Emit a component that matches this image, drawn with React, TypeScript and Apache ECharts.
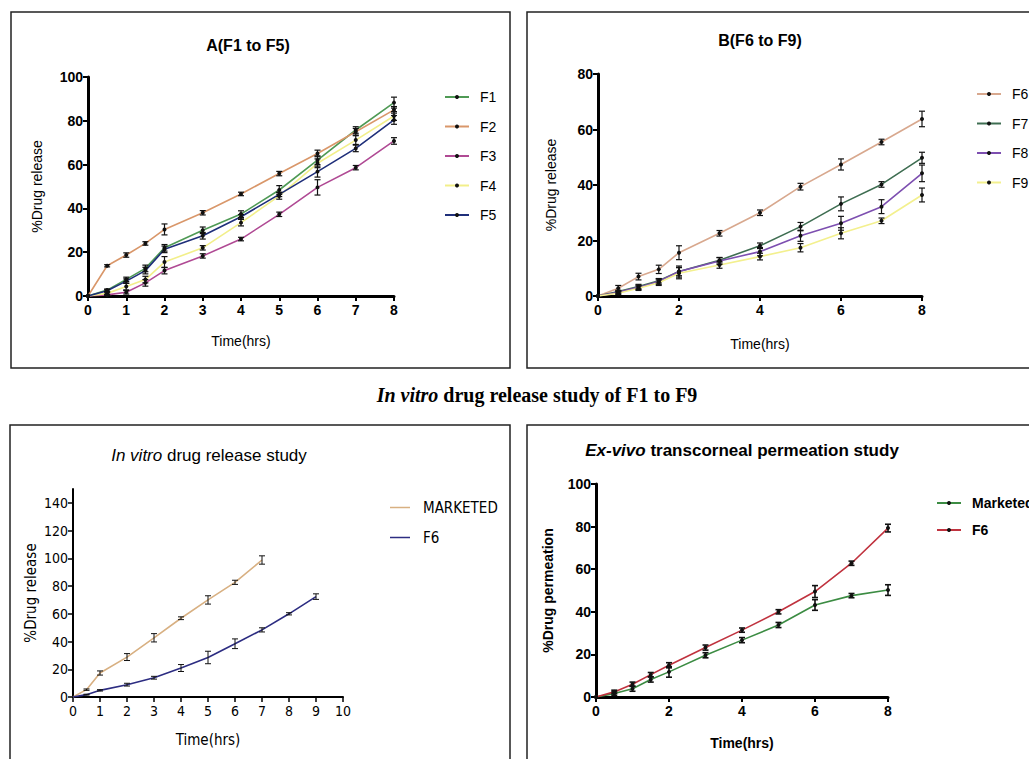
import React, { useEffect, useRef } from "react";
import * as echarts from "echarts";

// ---------- DATA ----------
const TIME_AB = [0, 0.5, 1, 1.5, 2, 3, 4, 5, 6, 7, 8];

const F1 = [0, 2.7, 7.6, 12.6, 22, 30, 37.4, 48.4, 62, 75.8, 88.3];
const F2 = [0, 13.8, 18.7, 24, 30.4, 38, 46.6, 55.9, 65.1, 75, 85];
const F3 = [0, 0.5, 1.7, 6, 11.6, 18.3, 26, 37.3, 49.6, 58.6, 70.8];
const F4 = [0, 1.2, 4.3, 7.5, 15.5, 22, 33.5, 45.7, 60.6, 71.2, 82.2];
const F5 = [0, 2.4, 6.8, 11.6, 21.3, 27.5, 36.2, 46.4, 56.8, 67.4, 80.4];
const F1_ERR = [0, 0.5, 1, 1.5, 1.5, 1.5, 1.5, 2, 2, 1.5, 2.5];
const F2_ERR = [0, 0.5, 1, 0.8, 2.5, 1, 0.8, 1, 1.5, 1.5, 1.5];
const F3_ERR = [0, 0.3, 0.8, 1.5, 1.5, 1, 0.8, 1, 3.5, 1, 1.5];
const F4_ERR = [0, 0.5, 1.5, 1.5, 2.5, 1, 1.5, 1.5, 2, 2, 2];
const F5_ERR = [0, 0.5, 1, 1.5, 1.5, 1.5, 1, 1, 2.5, 1.5, 2];

const F6 = [0, 2.8, 7, 9.6, 15.6, 22.6, 30, 39.4, 47.4, 55.5, 63.8];
const F7 = [0, 1.6, 3.4, 5.5, 8.8, 12.9, 18.1, 25, 33.2, 40.2, 49.8];
const F8 = [0, 1.3, 3.1, 5.2, 8.8, 12.6, 16, 21.7, 26.2, 32.2, 44.2];
const F9 = [0, 1, 2.8, 4.8, 8.2, 11.2, 14.2, 17.4, 22.6, 27.1, 36.4];
const F6_ERR = [0, 1, 1.2, 1.5, 2.5, 1, 1, 1.2, 2, 1, 2.8];
const F7_ERR = [0, 0.5, 0.8, 0.8, 1.5, 1, 1, 1.5, 2.5, 1, 2];
const F8_ERR = [0, 0.5, 0.8, 1, 2, 1.2, 1.5, 2, 2.5, 2.5, 3];
const F9_ERR = [0, 0.5, 0.8, 1, 2, 1.2, 1.2, 1.5, 2, 1, 2.5];

const TIME_C_MKT = [0, 0.5, 1, 2, 3, 4, 5, 6, 7];
const C_MARKETED = [0, 5.3, 17.3, 28.8, 42.7, 56.8, 70, 82.7, 98.8];
const C_MARKETED_ERR = [0, 0.5, 1.5, 2.5, 3, 1, 3, 1.5, 3];
const TIME_C_F6 = [0, 0.5, 1, 2, 3, 4, 5, 6, 7, 8, 9];
const C_F6 = [0, 1.7, 4.8, 8.9, 13.9, 20.9, 28.5, 38.4, 48.4, 60, 72.4];
const C_F6_ERR = [0, 0.3, 0.5, 1, 1, 2.5, 4.5, 3.5, 1.5, 0.8, 2];

const TIME_D = [0, 0.5, 1, 1.5, 2, 3, 4, 5, 6, 7, 8];
const D_MARKETED = [0, 1.6, 3.9, 8.2, 11.8, 19.6, 26.7, 33.8, 43.2, 47.6, 50.2];
const D_MARKETED_ERR = [0, 0.8, 1.2, 1.2, 2.5, 1.2, 1.2, 1.2, 2.5, 1, 2.5];
const D_F6 = [0, 2.4, 6, 10.5, 14.9, 23.2, 31.4, 40, 49.5, 62.8, 79.3];
const D_F6_ERR = [0, 0.8, 1, 1, 1.2, 1.2, 1, 1, 2.8, 1, 1.8];

const SANS = "'Liberation Sans', Arial, sans-serif";
const NARROW = "'Liberation Sans Narrow', 'DejaVu Sans Condensed', 'Liberation Sans', sans-serif";
const SERIF = "'Liberation Serif', 'Times New Roman', serif";

function pairs(xs: number[], ys: number[]) {
  return xs.map((x, i) => [x, ys[i]]);
}

function errData(xs: number[], ys: number[], es: number[]) {
  return xs.map((x, i) => [x, ys[i] - es[i], ys[i] + es[i]]).filter((_, i) => es[i] > 0);
}

function errSeries(name: string, gi: number, xs: number[], ys: number[], es: number[], lw = 1.2) {
  return {
    type: "custom",
    name,
    xAxisIndex: gi,
    yAxisIndex: gi,
    z: 5,
    silent: true,
    encode: { x: 0, y: [1, 2] },
    data: errData(xs, ys, es),
    renderItem: (params: any, api: any) => {
      const x = api.value(0);
      const lo = api.coord([x, api.value(1)]);
      const hi = api.coord([x, api.value(2)]);
      const w = 3;
      const st = { stroke: "#111", lineWidth: lw };
      return {
        type: "group",
        children: [
          { type: "line", shape: { x1: lo[0], y1: lo[1], x2: hi[0], y2: hi[1] }, style: st },
          { type: "line", shape: { x1: lo[0] - w, y1: lo[1], x2: lo[0] + w, y2: lo[1] }, style: st },
          { type: "line", shape: { x1: hi[0] - w, y1: hi[1], x2: hi[0] + w, y2: hi[1] }, style: st },
        ],
      };
    },
  };
}

function lineSeries(name: string, gi: number, xs: number[], ys: number[], color: string, showSym = true) {
  return {
    type: "line",
    name,
    xAxisIndex: gi,
    yAxisIndex: gi,
    z: 3,
    data: pairs(xs, ys),
    symbol: showSym ? "circle" : "none",
    symbolSize: 4,
    itemStyle: { color: showSym ? "#111" : color },
    lineStyle: { color, width: 1.6 },
  };
}

function axisPair(
  gi: number,
  xMax: number,
  xInt: number,
  yMax: number,
  yInt: number,
  opts: { bold: boolean; font: string; lw: number; xGap: number; yGap: number; yName: string; nameBold: boolean; fs: number; nfs: number; yLabels?: number[] }
) {
  const label = { color: "#000", fontWeight: opts.bold ? "bold" : "normal", fontSize: opts.fs, fontFamily: opts.font };
  const nameStyle = { color: "#000", fontWeight: opts.nameBold ? "bold" : "normal", fontSize: opts.nfs, fontFamily: opts.font };
  const line = { show: true, onZero: false, lineStyle: { color: "#000", width: opts.lw } };
  const tick = { show: true, length: 5, lineStyle: { color: "#000", width: Math.max(1.5, opts.lw - 1) } };
  const x: any = {
    gridIndex: gi,
    type: "value",
    min: 0,
    max: xMax,
    interval: xInt,
    axisLine: line,
    axisTick: tick,
    axisLabel: { ...label, margin: 7 },
    splitLine: { show: false },
    name: "Time(hrs)",
    nameLocation: "middle",
    nameGap: opts.xGap,
    nameTextStyle: nameStyle,
  };
  const y: any = {
    gridIndex: gi,
    type: "value",
    min: 0,
    max: yMax,
    interval: yInt,
    axisLine: line,
    axisTick: { ...tick },
    axisLabel: { ...label, margin: 5 },
    splitLine: { show: false },
    name: opts.yName,
    nameLocation: "middle",
    nameGap: opts.yGap,
    nameTextStyle: nameStyle,
  };
  if (opts.yLabels) {
    y.axisLabel.customValues = opts.yLabels;
    y.axisTick.customValues = opts.yLabels;
  }
  return { x, y };
}

function legend(left: number, top: number, gap: number, names: string[], font: string, bold: boolean, line: boolean) {
  const lg: any = {
    orient: "vertical",
    left,
    top,
    itemGap: gap,
    itemWidth: line ? 24 : 20,
    itemHeight: line ? 5 : 1.5,
    data: names,
    selectedMode: false,
    textStyle: {
      color: "#000",
      fontSize: line ? 14 : 15,
      lineHeight: 14,
      fontFamily: font,
      fontWeight: bold ? "bold" : "normal",
      padding: [0, 0, 0, line ? 6 : 8],
    },
  };
  if (!line) lg.icon = "rect";
  return lg;
}

function box(x: number, y: number, w: number, h: number) {
  return { type: "rect", shape: { x, y, width: w, height: h }, style: { fill: "none", stroke: "#222", lineWidth: 1.5 }, silent: true };
}

function label(x: number, y: number, text: string, rich: any) {
  return {
    type: "text",
    x,
    y,
    silent: true,
    style: { text, rich, align: "center", verticalAlign: "middle", fill: "#000" },
  };
}

export default function App() {
  const ref = useRef<HTMLDivElement>(null);
  useEffect(() => {
    if (!ref.current) return;
    const chart = echarts.init(ref.current, undefined, { renderer: "svg" });

    const aA = axisPair(0, 8, 1, 100, 20, { bold: true, font: SANS, lw: 3, xGap: 38, yGap: 44, yName: "%Drug release", nameBold: false, fs: 14, nfs: 14 });
    const aB = axisPair(1, 8, 2, 80, 20, { bold: true, font: SANS, lw: 3, xGap: 41, yGap: 40, yName: "%Drug release", nameBold: false, fs: 14, nfs: 14 });
    const aC = axisPair(2, 10, 1, 150, 10, {
      bold: false, font: NARROW, lw: 2, xGap: 35, yGap: 35, yName: "%Drug release", nameBold: false, fs: 14, nfs: 15,
      yLabels: [0, 20, 40, 60, 80, 100, 120, 140],
    });
    const aD = axisPair(3, 8, 2, 100, 20, { bold: true, font: SANS, lw: 3, xGap: 39, yGap: 41, yName: "%Drug permeation", nameBold: true, fs: 14, nfs: 14 });

    const option: any = {
      animation: false,
      backgroundColor: "#fff",
      grid: [
        { left: 88, top: 77, width: 306, height: 219 },
        { left: 598, top: 74, width: 324, height: 222 },
        { left: 73, top: 489, width: 270, height: 208 },
        { left: 596, top: 484, width: 292, height: 213 },
      ],
      xAxis: [aA.x, aB.x, aC.x, aD.x],
      yAxis: [aA.y, aB.y, aC.y, aD.y],
      legend: [
        legend(439, 85, 15.5, ["F1", "F2", "F3", "F4", "F5"], SANS, false, true),
        legend(971, 82, 15.5, ["F6", "F7", "F8", "F9"], SANS, false, true),
        legend(385, 495, 15, ["MARKETED", "F6 "], NARROW, false, false),
        legend(931, 491, 13, ["Marketed", "F6  "], SANS, true, true),
      ],
      series: [
        lineSeries("F1", 0, TIME_AB, F1, "#4f9a55"),
        lineSeries("F2", 0, TIME_AB, F2, "#d9976a"),
        lineSeries("F3", 0, TIME_AB, F3, "#b04a94"),
        lineSeries("F4", 0, TIME_AB, F4, "#f2ef8a"),
        lineSeries("F5", 0, TIME_AB, F5, "#1f2f7a"),
        errSeries("eF1", 0, TIME_AB, F1, F1_ERR),
        errSeries("eF2", 0, TIME_AB, F2, F2_ERR),
        errSeries("eF3", 0, TIME_AB, F3, F3_ERR),
        errSeries("eF4", 0, TIME_AB, F4, F4_ERR),
        errSeries("eF5", 0, TIME_AB, F5, F5_ERR),

        lineSeries("F6", 1, TIME_AB, F6, "#d8a88e"),
        lineSeries("F7", 1, TIME_AB, F7, "#3f6e52"),
        lineSeries("F8", 1, TIME_AB, F8, "#7d4fb0"),
        lineSeries("F9", 1, TIME_AB, F9, "#f3f08e"),
        errSeries("eF6", 1, TIME_AB, F6, F6_ERR),
        errSeries("eF7", 1, TIME_AB, F7, F7_ERR),
        errSeries("eF8", 1, TIME_AB, F8, F8_ERR),
        errSeries("eF9", 1, TIME_AB, F9, F9_ERR),

        lineSeries("MARKETED", 2, TIME_C_MKT, C_MARKETED, "#d8b082", false),
        lineSeries("F6 ", 2, TIME_C_F6, C_F6, "#2d2d82", false),
        errSeries("eCM", 2, TIME_C_MKT, C_MARKETED, C_MARKETED_ERR, 1),
        errSeries("eCF6", 2, TIME_C_F6, C_F6, C_F6_ERR, 1),

        lineSeries("Marketed", 3, TIME_D, D_MARKETED, "#3c8c43"),
        lineSeries("F6  ", 3, TIME_D, D_F6, "#c0333f"),
        errSeries("eDM", 3, TIME_D, D_MARKETED, D_MARKETED_ERR, 1.6),
        errSeries("eDF6", 3, TIME_D, D_F6, D_F6_ERR, 1.6),
      ],
      graphic: [
        box(11, 12, 499, 356),
        box(527, 12, 520, 356),
        box(10, 425, 500, 350),
        box(527, 425, 520, 350),
        label(248, 45, "{t|A(F1 to F5)}", { t: { fontFamily: SANS, fontWeight: "bold", fontSize: 16, fill: "#000" } }),
        label(760, 40, "{t|B(F6 to F9)}", { t: { fontFamily: SANS, fontWeight: "bold", fontSize: 16, fill: "#000" } }),
        label(537, 395, "{i|In vitro}{n| drug release study of F1 to F9}", {
          i: { fontFamily: SERIF, fontWeight: "bold", fontStyle: "italic", fontSize: 20, fill: "#000" },
          n: { fontFamily: SERIF, fontWeight: "bold", fontSize: 20, fill: "#000" },
        }),
        label(209, 455, "{i|In vitro}{n| drug release study}", {
          i: { fontFamily: SANS, fontStyle: "italic", fontSize: 17, fill: "#000" },
          n: { fontFamily: SANS, fontSize: 17, fill: "#000" },
        }),
        label(742, 450, "{i|Ex-vivo}{n| transcorneal permeation study}", {
          i: { fontFamily: SANS, fontWeight: "bold", fontStyle: "italic", fontSize: 17, fill: "#000" },
          n: { fontFamily: SANS, fontWeight: "bold", fontSize: 17, fill: "#000" },
        }),
      ],
    };
    chart.setOption(option);
    return () => chart.dispose();
  }, []);
  return <div ref={ref} style={{ position: "fixed", left: 0, top: 0, width: 1029, height: 759 }} />;
}
